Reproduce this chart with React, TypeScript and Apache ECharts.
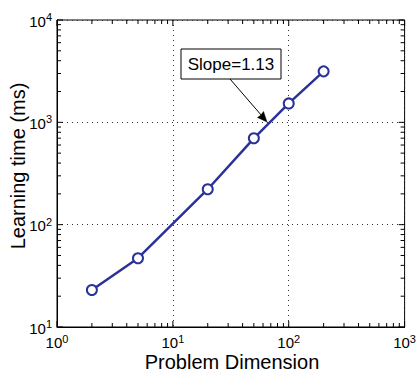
import React, { useEffect, useRef } from "react";
import * as echarts from "echarts";

// ---- data ----
const dimensions = [2, 5, 20, 50, 100, 200];
const learningTimeMs = [23, 47, 222, 698, 1530, 3150];
const xDecades = [1, 10, 100, 1000];
const yDecades = [10, 100, 1000, 10000];
const slopeLabel = "Slope=1.13";
const xTitle = "Problem Dimension";
const yTitle = "Learning time (ms)";

const FONT = '"Liberation Sans", Arial, Helvetica, sans-serif';
const LINE_COLOR = "#2A3199";

function ticksFor(decades: number[]) {
  const out: { v: number; major: number }[] = [];
  for (let i = 0; i < decades.length; i++) {
    out.push({ v: decades[i], major: 1 });
    if (i < decades.length - 1) {
      for (let m = 2; m <= 9; m++) out.push({ v: decades[i] * m, major: 0 });
    }
  }
  return out;
}

export default function App() {
  const ref = useRef<HTMLDivElement>(null);
  useEffect(() => {
    if (!ref.current) return;
    const chart = echarts.init(ref.current, undefined, { renderer: "svg" });
    const xMin = xDecades[0];
    const xMax = xDecades[xDecades.length - 1];
    const yMin = yDecades[0];
    const yMax = yDecades[yDecades.length - 1];
    const xTicks = ticksFor(xDecades).map((t) => [t.v, yMin, t.major]);
    const yTicks = ticksFor(yDecades).map((t) => [xMin, t.v, t.major]);
    const pow = (v: number) => `{b|10}{s|${Math.round(Math.log10(v))}}`;
    const rich = {
      b: { fontSize: 15, fontFamily: FONT, color: "#000", verticalAlign: "bottom", lineHeight: 17 },
      s: { fontSize: 11, fontFamily: FONT, color: "#000", verticalAlign: "top", lineHeight: 11 },
    };
    const tickStyle = { stroke: "#000", lineWidth: 1 };
    chart.setOption({
      animation: false,
      backgroundColor: "#fff",
      grid: {
        left: 57,
        right: 14,
        top: 20,
        bottom: 46,
        show: true,
        borderColor: "#000",
        borderWidth: 1,
      },
      xAxis: {
        type: "log",
        logBase: 10,
        min: xMin,
        max: xMax,
        axisLine: { show: true, lineStyle: { color: "#000", width: 1 } },
        axisTick: { show: false },
        splitLine: { show: true, lineStyle: { color: "#333", type: [1, 4], width: 1 } },
        axisLabel: {
          formatter: pow,
          rich,
          margin: 6,
          showMinLabel: true,
          showMaxLabel: true,
        },
      },
      yAxis: {
        type: "log",
        logBase: 10,
        min: yMin,
        max: yMax,
        axisLine: { show: true, lineStyle: { color: "#000", width: 1 } },
        axisTick: { show: false },
        splitLine: { show: true, lineStyle: { color: "#333", type: [1, 4], width: 1 } },
        axisLabel: {
          formatter: pow,
          rich,
          margin: 5,
          showMinLabel: true,
          showMaxLabel: true,
        },
      },
      graphic: [
        {
          type: "text",
          x: 232,
          y: 362,
          style: {
            text: xTitle,
            fontSize: 20,
            fontFamily: FONT,
            fill: "#000",
            align: "center",
            verticalAlign: "middle",
          },
        },
        {
          type: "text",
          x: 18,
          y: 166,
          rotation: Math.PI / 2,
          style: {
            text: yTitle,
            fontSize: 20,
            fontFamily: FONT,
            fill: "#000",
            align: "center",
            verticalAlign: "middle",
          },
        },
        {
          type: "rect",
          shape: { x: 181, y: 49, width: 100, height: 30 },
          style: { fill: "#fff", stroke: "#000", lineWidth: 1 },
          z: 10,
        },
        {
          type: "text",
          x: 231,
          y: 64,
          z: 11,
          style: {
            text: slopeLabel,
            fontSize: 17,
            fontFamily: FONT,
            fill: "#000",
            align: "center",
            verticalAlign: "middle",
          },
        },
        {
          type: "line",
          shape: { x1: 230, y1: 79, x2: 262, y2: 116 },
          style: { stroke: "#000", lineWidth: 1 },
          z: 10,
        },
        {
          type: "polygon",
          shape: {
            points: [
              [267, 122],
              [257.5, 117.5],
              [261, 115],
              [263.5, 111.5],
            ],
          },
          style: { fill: "#000", stroke: "#000", lineWidth: 0.5 },
          z: 10,
        },
      ],
      series: [
        {
          type: "custom",
          silent: true,
          coordinateSystem: "cartesian2d",
          encode: { x: 0, y: 1 },
          data: xTicks,
          z: 1,
          renderItem: (_p: any, api: any) => {
            const v = api.value(0);
            const len = api.value(2) ? 6 : 4;
            const b = api.coord([v, yMin]);
            const t = api.coord([v, yMax]);
            return {
              type: "group",
              children: [
                { type: "line", shape: { x1: b[0], y1: b[1], x2: b[0], y2: b[1] - len }, style: tickStyle },
                { type: "line", shape: { x1: t[0], y1: t[1], x2: t[0], y2: t[1] + len }, style: tickStyle },
              ],
            };
          },
        },
        {
          type: "custom",
          silent: true,
          coordinateSystem: "cartesian2d",
          encode: { x: 0, y: 1 },
          data: yTicks,
          z: 1,
          renderItem: (_p: any, api: any) => {
            const v = api.value(1);
            const len = api.value(2) ? 6 : 4;
            const l = api.coord([xMin, v]);
            const r = api.coord([xMax, v]);
            return {
              type: "group",
              children: [
                { type: "line", shape: { x1: l[0], y1: l[1], x2: l[0] + len, y2: l[1] }, style: tickStyle },
                { type: "line", shape: { x1: r[0], y1: r[1], x2: r[0] - len, y2: r[1] }, style: tickStyle },
              ],
            };
          },
        },
        {
          type: "line",
          data: dimensions.map((d, i) => [d, learningTimeMs[i]]),
          symbol: "emptyCircle",
          symbolSize: 10,
          lineStyle: { color: LINE_COLOR, width: 2.5 },
          itemStyle: { color: LINE_COLOR, borderColor: LINE_COLOR, borderWidth: 2 },
          z: 5,
        },
      ],
    });
    return () => chart.dispose();
  }, []);
  return (
    <div
      ref={ref}
      style={{ position: "absolute", left: 0, top: 0, width: 419, height: 373, background: "#fff" }}
    />
  );
}
